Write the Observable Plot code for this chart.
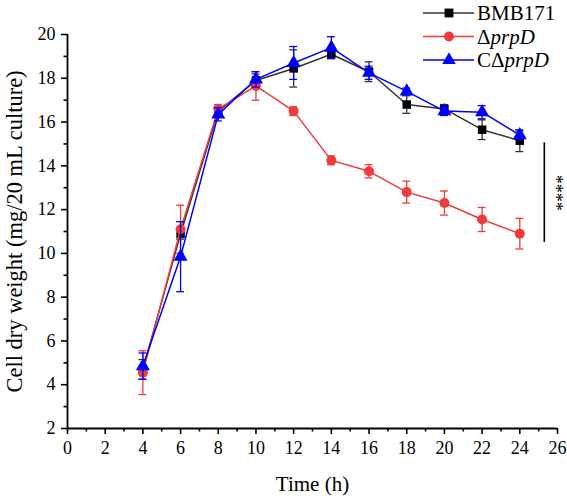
<!DOCTYPE html>
<html>
<head>
<meta charset="utf-8">
<script src="https://cdn.jsdelivr.net/npm/d3@7"></script>
<script src="https://cdn.jsdelivr.net/npm/@observablehq/plot@0.6"></script>
<style>
  html, body { margin: 0; padding: 0; background: #fff; }
  #chart { position: relative; width: 567px; height: 496px; font-family: "Liberation Serif", "Times New Roman", serif; }
  #legend { position: absolute; left: 420px; top: 0px; }
  #chart g[aria-label="x-axis tick label"], #chart g[aria-label="y-axis tick label"] { font-size: 18px; }
</style>
</head>
<body>
<div id="chart"></div>
<script>
// Sampling times (h)
const times = [4, 6, 8, 10, 12, 14, 16, 18, 20, 22, 24];

// Strain names
const strains = ["BMB171", "ΔprpD", "CΔprpD"];

// Mean cell dry weight (mg/20 mL culture)
const bmb171Mean = [4.7, 10.9, 16.5, 17.9, 18.45, 19.1, 18.3, 16.8, 16.6, 15.65, 15.15];
const prpDMean   = [4.55, 11.1, 16.6, 17.65, 16.5, 14.25, 13.75, 12.8, 12.3, 11.55, 10.9];
const cprpDMean  = [4.85, 9.85, 16.35, 17.95, 18.7, 19.4, 18.25, 17.4, 16.5, 16.45, 15.4];

// Standard deviations
const bmb171Sd = [0.45, 0.25, 0.2, 0.3, 0.85, 0.2, 0.45, 0.4, 0.2, 0.45, 0.5];
const prpDSd   = [1.0, 1.1, 0.2, 0.65, 0.2, 0.2, 0.3, 0.5, 0.55, 0.55, 0.7];
const cprpDSd  = [0.6, 1.6, 0.3, 0.35, 0.75, 0.5, 0.3, 0.15, 0.2, 0.3, 0.2];

// Series styles
const colors  = ["#000000", "#ef3b3b", "#0000ff"];
const lineColors = ["#333333", "#ef3b3b", "#0000ff"];
const symbols = ["square", "circle", "triangle"];

// Significance annotation (x position in h, y span in mg)
const sigX = [25.3];
const sigY = [10.5, 15.05];
const sigLabel = "****";

// Axis ticks
const xMajor = d3.range(0, 27, 2);
const xMinor = d3.range(1, 26, 2);
const yMajor = d3.range(2, 21, 2);
const yMinor = d3.range(3, 20, 2);

const means = [bmb171Mean, prpDMean, cprpDMean];
const sds = [bmb171Sd, prpDSd, cprpDSd];
const rows = strains.flatMap((s, i) => times.map((t, j) => ({
  strain: s, idx: i, t, y: means[i][j], lo: means[i][j] - sds[i][j], hi: means[i][j] + sds[i][j]
})));

const capHalf = 0.21;
const marks = [];
strains.forEach((s, i) => {
  const data = rows.filter(d => d.idx === i);
  marks.push(
    Plot.ruleX(data, {x: "t", y1: "lo", y2: "hi", stroke: lineColors[i], strokeWidth: 1.3}),
    Plot.ruleY(data, {y: "lo", x1: d => d.t - capHalf, x2: d => d.t + capHalf, stroke: lineColors[i], strokeWidth: 1.3}),
    Plot.ruleY(data, {y: "hi", x1: d => d.t - capHalf, x2: d => d.t + capHalf, stroke: lineColors[i], strokeWidth: 1.3}),
    Plot.line(data, {x: "t", y: "y", stroke: lineColors[i], strokeWidth: 1.5}),
    Plot.dot(data, {x: "t", y: "y", symbol: () => symbols[i], fill: colors[i], stroke: "none",
      r: i === 1 ? 5 : (i === 0 ? 4.8 : 5.2)})
  );
});

const plot = Plot.plot({
  width: 567,
  height: 496,
  marginLeft: 67,
  marginRight: 10,
  marginTop: 34,
  marginBottom: 68,
  style: {fontFamily: "'Liberation Serif', 'Times New Roman', serif", fontSize: "18px", color: "#000", background: "#fff", overflow: "visible"},
  x: {domain: [0, 26]},
  y: {domain: [2, 20]},
  symbol: {type: "identity"},
  marks: [
    ...marks,
    // significance bar and stars
    Plot.ruleX(sigX, {x: d => d, y1: sigY[0], y2: sigY[1], stroke: "#000", strokeWidth: 1.6}),
    Plot.text([sigLabel], {x: sigX[0] + 0.6, y: (sigY[0] + sigY[1]) / 2, text: d => d, rotate: 90, fontSize: 18, fill: "#000"}),
    // axes
    Plot.axisX({ticks: xMajor, tickSize: 6, tickPadding: 7, tickFormat: d => d, label: null, strokeWidth: 1.6, fontSize: 18}),
    Plot.axisX({ticks: xMinor, tickSize: 3.5, tickFormat: null, text: null, label: null, strokeWidth: 1.6}),
    Plot.axisY({ticks: yMajor, tickSize: 6, tickPadding: 6, tickFormat: d => d, label: null, strokeWidth: 1.6, fontSize: 18}),
    Plot.axisY({ticks: yMinor, tickSize: 3.5, tickFormat: null, text: null, label: null, strokeWidth: 1.6}),
    Plot.ruleX([0], {stroke: "#000", strokeWidth: 1.8}),
    Plot.ruleY([2], {stroke: "#000", strokeWidth: 1.8}),
    // axis titles
    Plot.text(["Time (h)"], {frameAnchor: "bottom", lineAnchor: "middle", dy: 56, text: d => d, fontSize: 21, fontWeight: "normal", fill: "#000"}),
    Plot.text(["Cell dry weight (mg/20 mL culture)"], {frameAnchor: "left", textAnchor: "middle", dx: -53, rotate: -90, text: d => d, fontSize: 22.5, fontWeight: "normal", fill: "#000"})
  ]
});

const chart = document.getElementById("chart");
chart.appendChild(plot);

// Legend: line + symbol swatch, strain name with italic gene name
const legend = d3.select(chart).append("svg")
  .attr("id", "legend").attr("width", 147).attr("height", 75)
  .style("font-family", "'Liberation Serif', 'Times New Roman', serif");
const symbolTypes = {square: d3.symbolSquare, circle: d3.symbolCircle, triangle: d3.symbolTriangle};
strains.forEach((s, i) => {
  const g = legend.append("g").attr("transform", `translate(0, ${13 + i * 23.5})`);
  g.append("line").attr("x1", 3).attr("x2", 54).attr("y1", 0).attr("y2", 0)
    .attr("stroke", lineColors[i]).attr("stroke-width", 1.5);
  g.append("path").attr("transform", "translate(29,0)")
    .attr("d", d3.symbol(symbolTypes[symbols[i]], Math.PI * 25)())
    .attr("fill", colors[i]);
  const t = g.append("text").attr("x", 57).attr("y", 0).attr("dy", "0.35em")
    .attr("font-size", 21).attr("fill", "#000");
  const m = s.match(/^(C?Δ)?(.*)$/);
  if (m[1]) {
    t.append("tspan").text(m[1]);
    t.append("tspan").attr("font-style", "italic").text(m[2]);
  } else {
    t.text(s);
  }
});
</script>
</body>
</html>
